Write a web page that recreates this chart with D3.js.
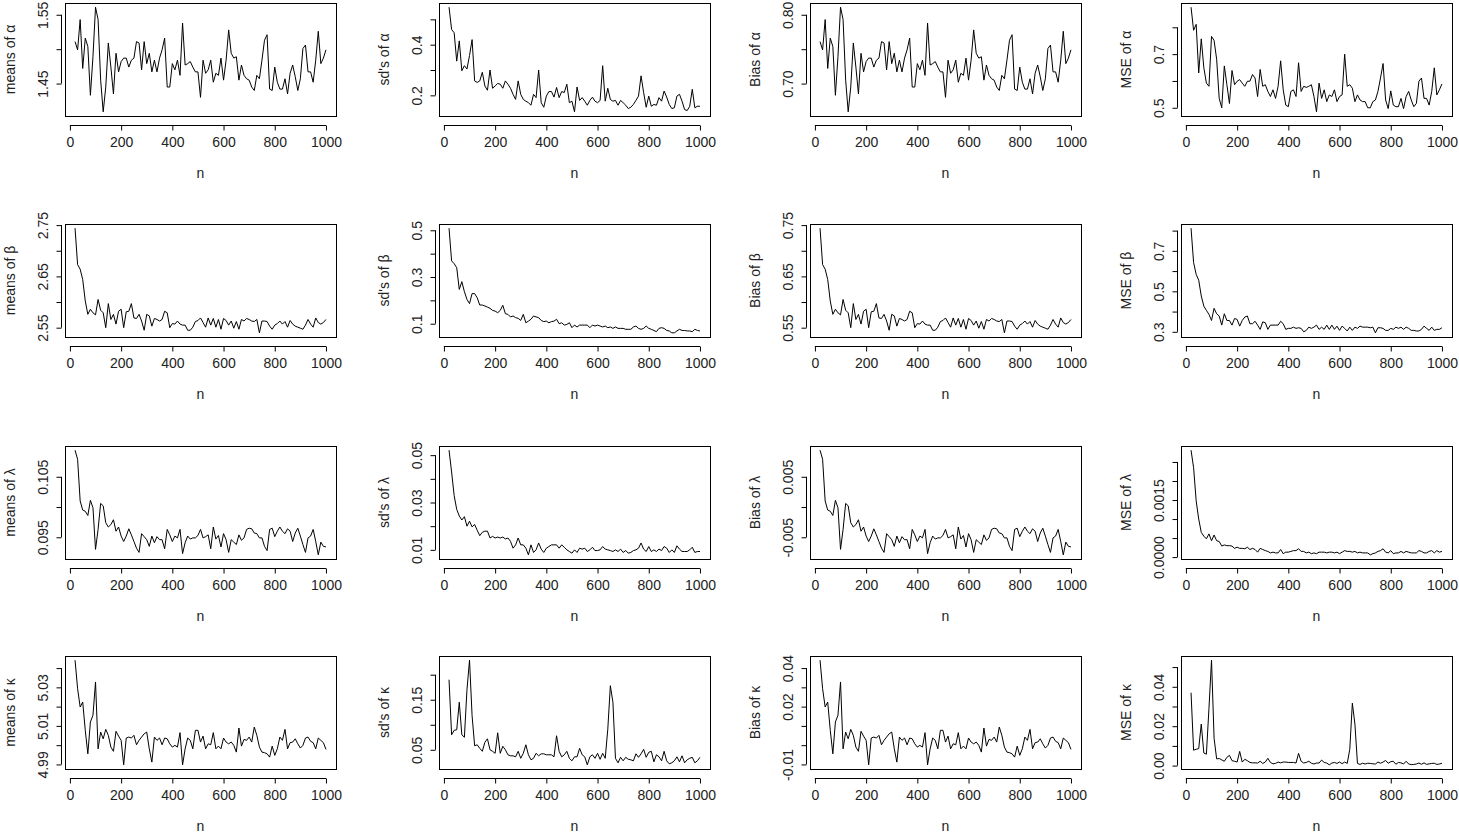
<!DOCTYPE html>
<html>
<head>
<meta charset="utf-8">
<script src="https://cdn.jsdelivr.net/npm/d3@7"></script>
<style>
  body { margin: 0; background: #fff; }
  svg text { font-family: "Liberation Sans", Arial, sans-serif; fill: #222; }
</style>
</head>
<body>
<svg id="chart" width="1459" height="834"></svg>
<script>
// sample sizes n = 20, 30, ..., 1000
const nValues = [20,30,40,50,60,70,80,90,100,110,120,130,140,150,160,170,180,190,200,210,
  220,230,240,250,260,270,280,290,300,310,320,330,340,350,360,370,380,390,400,410,
  420,430,440,450,460,470,480,490,500,510,520,530,540,550,560,570,580,590,600,610,
  620,630,640,650,660,670,680,690,700,710,720,730,740,750,760,770,780,790,800,810,
  820,830,840,850,860,870,880,890,900,910,920,930,940,950,960,970,980,990,1000];
const xTicks = [0, 200, 400, 600, 800, 1000];

// alpha
const meansAlpha = [1.511,1.499,1.543,1.472,1.516,1.504,1.433,1.489,1.561,1.543,
  1.455,1.409,1.445,1.509,1.474,1.435,1.494,1.467,1.482,1.487,
  1.487,1.474,1.484,1.487,1.511,1.509,1.470,1.511,1.479,1.494,
  1.467,1.484,1.467,1.487,1.499,1.516,1.445,1.445,1.479,1.470,
  1.484,1.462,1.538,1.477,1.479,1.482,1.474,1.467,1.467,1.430,
  1.484,1.465,1.470,1.484,1.452,1.465,1.462,1.487,1.455,1.484,
  1.528,1.494,1.487,1.489,1.455,1.477,1.462,1.457,1.455,1.445,
  1.440,1.462,1.457,1.484,1.513,1.521,1.442,1.440,1.474,1.452,
  1.442,1.442,1.457,1.435,1.465,1.477,1.460,1.440,1.457,1.501,
  1.506,1.467,1.467,1.452,1.484,1.526,1.479,1.487,1.499];
const sdAlpha = [0.548,0.460,0.447,0.335,0.415,0.297,0.317,0.304,0.357,0.420,
  0.257,0.251,0.257,0.291,0.237,0.220,0.300,0.228,0.237,0.247,
  0.244,0.228,0.257,0.244,0.228,0.204,0.184,0.257,0.204,0.184,
  0.177,0.171,0.161,0.204,0.191,0.300,0.171,0.153,0.197,0.215,
  0.215,0.193,0.231,0.191,0.215,0.211,0.244,0.171,0.177,0.135,
  0.233,0.180,0.191,0.177,0.161,0.180,0.193,0.177,0.171,0.180,
  0.317,0.177,0.228,0.184,0.177,0.180,0.161,0.180,0.171,0.161,
  0.148,0.153,0.164,0.180,0.197,0.277,0.211,0.153,0.197,0.157,
  0.164,0.161,0.191,0.177,0.217,0.193,0.164,0.148,0.151,0.197,
  0.204,0.177,0.144,0.140,0.157,0.224,0.151,0.157,0.157];
const biasAlpha = [0.761,0.749,0.793,0.722,0.766,0.754,0.683,0.739,0.811,0.793,
  0.705,0.659,0.695,0.759,0.724,0.685,0.744,0.717,0.732,0.737,
  0.737,0.724,0.734,0.737,0.761,0.759,0.720,0.761,0.729,0.744,
  0.717,0.734,0.717,0.737,0.749,0.766,0.695,0.695,0.729,0.720,
  0.734,0.712,0.788,0.727,0.729,0.732,0.724,0.717,0.717,0.680,
  0.734,0.715,0.720,0.734,0.702,0.715,0.712,0.737,0.705,0.734,
  0.778,0.744,0.737,0.739,0.705,0.727,0.712,0.707,0.705,0.695,
  0.690,0.712,0.707,0.734,0.763,0.771,0.692,0.690,0.724,0.702,
  0.692,0.692,0.707,0.685,0.715,0.727,0.710,0.690,0.707,0.751,
  0.756,0.717,0.717,0.702,0.734,0.776,0.729,0.737,0.749];
const mseAlpha = [0.875,0.789,0.811,0.630,0.757,0.649,0.592,0.580,0.766,0.751,
  0.681,0.535,0.500,0.656,0.586,0.516,0.639,0.586,0.599,0.605,
  0.592,0.580,0.599,0.599,0.624,0.611,0.542,0.643,0.580,0.586,
  0.561,0.542,0.567,0.535,0.580,0.675,0.567,0.510,0.504,0.561,
  0.567,0.542,0.668,0.561,0.580,0.576,0.580,0.586,0.542,0.485,
  0.592,0.535,0.567,0.523,0.548,0.542,0.567,0.523,0.542,0.548,
  0.700,0.580,0.586,0.573,0.523,0.548,0.529,0.523,0.523,0.500,
  0.500,0.523,0.529,0.561,0.611,0.665,0.529,0.497,0.563,0.510,
  0.504,0.504,0.535,0.497,0.542,0.561,0.529,0.504,0.516,0.599,
  0.611,0.535,0.535,0.510,0.561,0.649,0.548,0.567,0.589];

// beta
const meansBeta = [2.744,2.673,2.664,2.644,2.602,2.576,2.586,2.579,2.575,2.605,
  2.584,2.579,2.550,2.597,2.566,2.576,2.557,2.582,2.586,2.550,
  2.581,2.582,2.597,2.569,2.568,2.576,2.563,2.545,2.576,2.573,
  2.553,2.568,2.566,2.563,2.566,2.582,2.579,2.550,2.558,2.557,
  2.563,2.557,2.555,2.555,2.545,2.545,2.551,2.562,2.564,2.569,
  2.560,2.551,2.569,2.555,2.568,2.551,2.566,2.547,2.568,2.564,
  2.555,2.563,2.549,2.562,2.547,2.566,2.563,2.568,2.566,2.563,
  2.562,2.566,2.540,2.563,2.563,2.562,2.553,2.547,2.555,2.558,
  2.563,2.557,2.562,2.551,2.564,2.557,2.553,2.551,2.549,2.547,
  2.555,2.566,2.557,2.551,2.569,2.560,2.557,2.560,2.566];
const sdBeta = [0.509,0.369,0.357,0.340,0.247,0.280,0.237,0.204,0.186,0.229,
  0.229,0.211,0.180,0.180,0.176,0.171,0.166,0.157,0.154,0.147,
  0.157,0.179,0.143,0.140,0.129,0.133,0.126,0.123,0.114,0.140,
  0.104,0.111,0.119,0.133,0.129,0.126,0.114,0.109,0.111,0.104,
  0.109,0.111,0.119,0.100,0.104,0.094,0.097,0.104,0.083,0.094,
  0.086,0.094,0.094,0.094,0.094,0.083,0.094,0.090,0.094,0.090,
  0.086,0.090,0.083,0.086,0.080,0.086,0.080,0.080,0.080,0.076,
  0.076,0.076,0.086,0.090,0.080,0.076,0.080,0.090,0.080,0.076,
  0.071,0.066,0.080,0.083,0.080,0.071,0.069,0.061,0.061,0.069,
  0.076,0.071,0.071,0.069,0.069,0.066,0.076,0.071,0.069];
const biasBeta = [0.744,0.673,0.664,0.644,0.602,0.576,0.586,0.579,0.575,0.605,
  0.584,0.579,0.550,0.597,0.566,0.576,0.557,0.582,0.586,0.550,
  0.581,0.582,0.597,0.569,0.568,0.576,0.563,0.545,0.576,0.573,
  0.553,0.568,0.566,0.563,0.566,0.582,0.579,0.550,0.558,0.557,
  0.563,0.557,0.555,0.555,0.545,0.545,0.551,0.562,0.564,0.569,
  0.560,0.551,0.569,0.555,0.568,0.551,0.566,0.547,0.568,0.564,
  0.555,0.563,0.549,0.562,0.547,0.566,0.563,0.568,0.566,0.563,
  0.562,0.566,0.540,0.563,0.563,0.562,0.553,0.547,0.555,0.558,
  0.563,0.557,0.562,0.551,0.564,0.557,0.553,0.551,0.549,0.547,
  0.555,0.566,0.557,0.551,0.569,0.560,0.557,0.560,0.566];
const mseBeta = [0.812,0.642,0.584,0.555,0.477,0.427,0.406,0.386,0.356,0.416,
  0.389,0.378,0.333,0.389,0.356,0.356,0.333,0.366,0.361,0.328,
  0.356,0.373,0.378,0.340,0.340,0.352,0.333,0.312,0.349,0.345,
  0.312,0.333,0.333,0.333,0.333,0.352,0.340,0.312,0.317,0.317,
  0.323,0.317,0.320,0.317,0.300,0.307,0.323,0.317,0.323,0.333,
  0.312,0.323,0.312,0.333,0.312,0.333,0.312,0.328,0.307,0.328,
  0.317,0.304,0.323,0.307,0.323,0.317,0.328,0.323,0.323,0.323,
  0.320,0.323,0.295,0.320,0.320,0.317,0.307,0.307,0.317,0.312,
  0.323,0.317,0.323,0.312,0.323,0.317,0.307,0.307,0.304,0.304,
  0.312,0.328,0.317,0.307,0.323,0.307,0.312,0.312,0.320];

// lambda
const meansLambda = [0.1094,0.1079,0.1010,0.0995,0.0993,0.0986,0.1011,0.0999,0.0930,0.0963,
  0.1006,0.1002,0.0974,0.0967,0.0971,0.0979,0.0960,0.0967,0.0952,0.0943,
  0.0952,0.0964,0.0954,0.0943,0.0932,0.0925,0.0956,0.0951,0.0946,0.0935,
  0.0952,0.0941,0.0951,0.0946,0.0946,0.0931,0.0963,0.0954,0.0943,0.0952,
  0.0949,0.0963,0.0923,0.0941,0.0952,0.0947,0.0949,0.0949,0.0953,0.0963,
  0.0949,0.0951,0.0954,0.0931,0.0967,0.0947,0.0953,0.0934,0.0956,0.0946,
  0.0925,0.0946,0.0942,0.0938,0.0954,0.0945,0.0949,0.0963,0.0965,0.0964,
  0.0957,0.0956,0.0949,0.0949,0.0935,0.0928,0.0963,0.0965,0.0951,0.0960,
  0.0967,0.0960,0.0956,0.0964,0.0960,0.0943,0.0957,0.0965,0.0952,0.0938,
  0.0925,0.0949,0.0952,0.0963,0.0943,0.0921,0.0942,0.0935,0.0934];
const sdLambda = [0.0521,0.0429,0.0329,0.0271,0.0243,0.0226,0.0240,0.0200,0.0221,0.0197,
  0.0207,0.0183,0.0160,0.0174,0.0179,0.0179,0.0150,0.0157,0.0150,0.0154,
  0.0150,0.0154,0.0146,0.0150,0.0136,0.0107,0.0121,0.0150,0.0121,0.0121,
  0.0107,0.0079,0.0121,0.0089,0.0100,0.0129,0.0103,0.0089,0.0107,0.0114,
  0.0121,0.0121,0.0121,0.0107,0.0121,0.0111,0.0100,0.0093,0.0086,0.0100,
  0.0089,0.0107,0.0103,0.0107,0.0093,0.0100,0.0111,0.0097,0.0097,0.0100,
  0.0114,0.0103,0.0100,0.0097,0.0093,0.0100,0.0093,0.0103,0.0089,0.0097,
  0.0086,0.0089,0.0097,0.0100,0.0107,0.0129,0.0103,0.0093,0.0114,0.0093,
  0.0100,0.0093,0.0103,0.0097,0.0114,0.0107,0.0089,0.0100,0.0089,0.0117,
  0.0103,0.0093,0.0093,0.0093,0.0100,0.0111,0.0089,0.0093,0.0093];
const biasLambda = [0.0094,0.0079,0.0010,-0.0005,-0.0007,-0.0014,0.0011,-0.0001,-0.0070,-0.0037,
  0.0006,0.0002,-0.0026,-0.0033,-0.0029,-0.0021,-0.0040,-0.0033,-0.0048,-0.0057,
  -0.0048,-0.0036,-0.0046,-0.0057,-0.0068,-0.0075,-0.0044,-0.0049,-0.0054,-0.0065,
  -0.0048,-0.0059,-0.0049,-0.0054,-0.0054,-0.0069,-0.0037,-0.0046,-0.0057,-0.0048,
  -0.0051,-0.0037,-0.0077,-0.0059,-0.0048,-0.0053,-0.0051,-0.0051,-0.0047,-0.0037,
  -0.0051,-0.0049,-0.0046,-0.0069,-0.0033,-0.0053,-0.0047,-0.0066,-0.0044,-0.0054,
  -0.0075,-0.0054,-0.0058,-0.0062,-0.0046,-0.0055,-0.0051,-0.0037,-0.0035,-0.0036,
  -0.0043,-0.0044,-0.0051,-0.0051,-0.0065,-0.0072,-0.0037,-0.0035,-0.0049,-0.0040,
  -0.0033,-0.0040,-0.0044,-0.0036,-0.0040,-0.0057,-0.0043,-0.0035,-0.0048,-0.0062,
  -0.0075,-0.0051,-0.0048,-0.0037,-0.0057,-0.0079,-0.0058,-0.0065,-0.0066];
const mseLambda = [0.00281,0.00235,0.00148,0.00100,0.00065,0.00055,0.00048,0.00061,0.00043,0.00058,
  0.00043,0.00041,0.00029,0.00032,0.00030,0.00030,0.00029,0.00023,0.00026,0.00023,
  0.00023,0.00022,0.00026,0.00020,0.00023,0.00020,0.00013,0.00023,0.00020,0.00017,
  0.00015,0.00011,0.00013,0.00011,0.00011,0.00020,0.00009,0.00013,0.00013,0.00015,
  0.00017,0.00017,0.00022,0.00015,0.00015,0.00011,0.00013,0.00009,0.00011,0.00009,
  0.00013,0.00013,0.00013,0.00011,0.00013,0.00013,0.00011,0.00013,0.00009,0.00013,
  0.00017,0.00015,0.00015,0.00013,0.00015,0.00011,0.00013,0.00011,0.00011,0.00011,
  0.00006,0.00009,0.00011,0.00015,0.00017,0.00022,0.00013,0.00011,0.00017,0.00009,
  0.00011,0.00011,0.00015,0.00011,0.00015,0.00013,0.00011,0.00011,0.00011,0.00017,
  0.00015,0.00011,0.00011,0.00015,0.00017,0.00011,0.00017,0.00013,0.00015];

// kappa
const meansKappa = [5.0441,5.0293,5.0198,5.0224,5.0077,4.9955,5.0120,5.0155,5.0328,4.9981,
  5.0068,5.0033,5.0082,5.0051,4.9990,4.9968,5.0072,5.0047,5.0025,4.9898,
  5.0037,5.0042,5.0037,5.0051,5.0002,5.0025,5.0042,5.0059,5.0068,4.9981,
  4.9912,5.0042,5.0025,5.0037,5.0002,5.0037,5.0033,5.0007,4.9990,4.9999,
  4.9990,5.0065,4.9898,4.9981,5.0037,5.0025,4.9981,5.0077,5.0077,5.0016,
  5.0047,4.9981,5.0007,5.0002,5.0065,4.9981,4.9995,4.9981,5.0037,5.0016,
  5.0007,5.0016,4.9999,4.9964,5.0089,4.9995,5.0030,5.0025,5.0042,5.0016,
  5.0094,5.0051,4.9990,4.9964,4.9961,4.9955,4.9938,4.9995,4.9947,4.9981,
  5.0042,5.0025,5.0082,4.9981,5.0013,5.0016,5.0033,5.0007,4.9985,4.9999,
  5.0037,5.0042,5.0020,5.0013,4.9981,5.0037,5.0025,5.0013,4.9978];
const sdKappa = [0.190,0.080,0.089,0.090,0.145,0.080,0.075,0.170,0.229,0.118,
  0.058,0.060,0.053,0.047,0.065,0.072,0.050,0.047,0.043,0.084,
  0.043,0.057,0.050,0.040,0.038,0.038,0.036,0.047,0.033,0.043,
  0.060,0.040,0.030,0.033,0.043,0.038,0.042,0.042,0.040,0.040,
  0.040,0.036,0.078,0.047,0.036,0.040,0.047,0.033,0.028,0.036,
  0.036,0.053,0.040,0.036,0.020,0.036,0.040,0.033,0.043,0.031,
  0.043,0.033,0.091,0.178,0.145,0.033,0.024,0.035,0.028,0.035,
  0.031,0.030,0.028,0.042,0.035,0.042,0.051,0.035,0.045,0.047,
  0.026,0.040,0.036,0.028,0.047,0.028,0.022,0.024,0.028,0.036,
  0.026,0.038,0.024,0.030,0.033,0.035,0.024,0.028,0.035];
const biasKappa = [0.0441,0.0293,0.0198,0.0224,0.0077,-0.0045,0.0120,0.0155,0.0328,-0.0019,
  0.0068,0.0033,0.0082,0.0051,-0.0010,-0.0032,0.0072,0.0047,0.0025,-0.0102,
  0.0037,0.0042,0.0037,0.0051,0.0002,0.0025,0.0042,0.0059,0.0068,-0.0019,
  -0.0088,0.0042,0.0025,0.0037,0.0002,0.0037,0.0033,0.0007,-0.0010,-0.0001,
  -0.0010,0.0065,-0.0102,-0.0019,0.0037,0.0025,-0.0019,0.0077,0.0077,0.0016,
  0.0047,-0.0019,0.0007,0.0002,0.0065,-0.0019,-0.0005,-0.0019,0.0037,0.0016,
  0.0007,0.0016,-0.0001,-0.0036,0.0089,-0.0005,0.0030,0.0025,0.0042,0.0016,
  0.0094,0.0051,-0.0010,-0.0036,-0.0039,-0.0045,-0.0062,-0.0005,-0.0053,-0.0019,
  0.0042,0.0025,0.0082,-0.0019,0.0013,0.0016,0.0033,0.0007,-0.0015,-0.0001,
  0.0037,0.0042,0.0020,0.0013,-0.0019,0.0037,0.0025,0.0013,-0.0022];
const mseKappa = [0.0370,0.0078,0.0083,0.0086,0.0211,0.0064,0.0058,0.0291,0.0535,0.0139,
  0.0034,0.0036,0.0029,0.0022,0.0042,0.0052,0.0025,0.0022,0.0018,0.0072,
  0.0018,0.0032,0.0025,0.0016,0.0014,0.0014,0.0013,0.0022,0.0011,0.0018,
  0.0037,0.0016,0.0009,0.0011,0.0018,0.0014,0.0018,0.0018,0.0016,0.0016,
  0.0016,0.0013,0.0062,0.0022,0.0013,0.0016,0.0022,0.0012,0.0008,0.0013,
  0.0013,0.0028,0.0016,0.0013,0.0004,0.0013,0.0016,0.0011,0.0018,0.0010,
  0.0018,0.0011,0.0083,0.0317,0.0211,0.0011,0.0006,0.0012,0.0008,0.0012,
  0.0011,0.0009,0.0008,0.0018,0.0012,0.0018,0.0026,0.0012,0.0020,0.0022,
  0.0007,0.0016,0.0014,0.0008,0.0022,0.0008,0.0005,0.0006,0.0008,0.0013,
  0.0007,0.0014,0.0006,0.0009,0.0011,0.0012,0.0006,0.0008,0.0012];

// y tick values and the labels R kept (empty = tick without label)
const yTicksList = [
  [1.45, 1.50, 1.55], [0.2, 0.3, 0.4, 0.5], [0.70, 0.75, 0.80], [0.5, 0.6, 0.7, 0.8],
  [2.55, 2.60, 2.65, 2.70, 2.75], [0.1, 0.2, 0.3, 0.4, 0.5], [0.55, 0.60, 0.65, 0.70, 0.75], [0.3, 0.4, 0.5, 0.6, 0.7, 0.8],
  [0.095, 0.100, 0.105], [0.01, 0.02, 0.03, 0.04, 0.05], [-0.005, 0, 0.005], [0, 0.0005, 0.0010, 0.0015, 0.0020, 0.0025],
  [4.99, 5.00, 5.01, 5.02, 5.03, 5.04], [0.05, 0.10, 0.15, 0.20], [-0.01, 0, 0.01, 0.02, 0.03, 0.04], [0, 0.01, 0.02, 0.03, 0.04, 0.05]
];
const yLabelsList = [
  ["1.45", "", "1.55"], ["0.2", "", "0.4", ""], ["0.70", "", "0.80"], ["0.5", "", "0.7", ""],
  ["2.55", "", "2.65", "", "2.75"], ["0.1", "", "0.3", "", "0.5"], ["0.55", "", "0.65", "", "0.75"], ["0.3", "", "0.5", "", "0.7", ""],
  ["0.095", "", "0.105"], ["0.01", "", "0.03", "", "0.05"], ["-0.005", "", "0.005"], ["0.0000", "", "", "0.0015", "", ""],
  ["4.99", "", "5.01", "", "5.03", ""], ["0.05", "", "0.15", ""], ["-0.01", "", "", "0.02", "", "0.04"], ["0.00", "", "0.02", "", "0.04", ""]
];
const titles = [
  "means of α", "sd's of α", "Bias of α", "MSE of α",
  "means of β", "sd's of β", "Bias of β", "MSE of β",
  "means of λ", "sd's of λ", "Bias of λ", "MSE of λ",
  "means of κ", "sd's of κ", "Bias of κ", "MSE of κ"
];
const seriesList = [
  meansAlpha, sdAlpha, biasAlpha, mseAlpha,
  meansBeta, sdBeta, biasBeta, mseBeta,
  meansLambda, sdLambda, biasLambda, mseLambda,
  meansKappa, sdKappa, biasKappa, mseKappa
];

// layout of the 4 x 4 grid of plot boxes
const colLeft = [65, 439, 810, 1181];
const rowTop = [3, 224, 446, 656];
const boxW = 271, boxH = 113;
const fontSize = "14px";

const svg = d3.select("#chart");

// R style axis range: data range widened by 4% on each side
function padded(ext) {
  const d = (ext[1] - ext[0]) * 0.04;
  return [ext[0] - d, ext[1] + d];
}

seriesList.forEach((values, i) => {
  const left = colLeft[i % 4], top = rowTop[Math.floor(i / 4)];
  const bottom = top + boxH;

  const x = d3.scaleLinear().domain(padded(d3.extent(nValues))).range([left, left + boxW]);
  const y = d3.scaleLinear().domain(padded(d3.extent(values))).range([bottom, top]);

  const g = svg.append("g");

  // data line
  g.append("path")
    .datum(values)
    .attr("fill", "none")
    .attr("stroke", "#000")
    .attr("stroke-width", 1)
    .attr("d", d3.line().x((d, j) => x(nValues[j])).y(d => y(d)));

  // box
  g.append("rect")
    .attr("x", left + 0.5).attr("y", top + 0.5)
    .attr("width", boxW).attr("height", boxH)
    .attr("fill", "none").attr("stroke", "#000").attr("stroke-width", 1);

  // x axis, sitting a little below the box
  const xAxisY = bottom + 9.5;
  const xa = g.append("g")
    .attr("transform", `translate(0,${xAxisY})`)
    .call(d3.axisBottom(x).tickValues(xTicks).tickFormat(d3.format("d")).tickSize(5).tickSizeOuter(0));
  xa.select(".domain").remove();
  xa.append("line")
    .attr("x1", x(xTicks[0])).attr("x2", x(xTicks[xTicks.length - 1]))
    .attr("stroke", "#000");
  xa.selectAll(".tick line").attr("stroke", "#000");
  xa.selectAll("text")
    .attr("y", 21.5).attr("dy", 0)
    .style("font-size", fontSize).style("fill", "#222");

  // y axis, just left of the box, labels turned upright
  const yTicks = yTicksList[i], yLabels = yLabelsList[i];
  const ya = g.append("g")
    .attr("transform", `translate(${left - 3.5},0)`)
    .call(d3.axisLeft(y).tickValues(yTicks).tickFormat((d, j) => yLabels[j]).tickSize(5).tickSizeOuter(0));
  ya.select(".domain").remove();
  ya.append("line")
    .attr("y1", y(yTicks[0])).attr("y2", y(yTicks[yTicks.length - 1]))
    .attr("stroke", "#000");
  ya.selectAll(".tick line").attr("stroke", "#000");
  ya.selectAll("text")
    .attr("x", 0).attr("y", -14).attr("dy", 0)
    .attr("transform", "rotate(-90)")
    .attr("text-anchor", "middle")
    .style("font-size", fontSize).style("fill", "#222");

  // axis titles
  g.append("text")
    .attr("x", left + boxW / 2).attr("y", bottom + 62)
    .attr("text-anchor", "middle")
    .style("font-size", fontSize)
    .text("n");

  g.append("text")
    .attr("transform", `translate(${left - 50},${top + boxH / 2}) rotate(-90)`)
    .attr("text-anchor", "middle")
    .style("font-size", fontSize)
    .text(titles[i]);
});
</script>
</body>
</html>
